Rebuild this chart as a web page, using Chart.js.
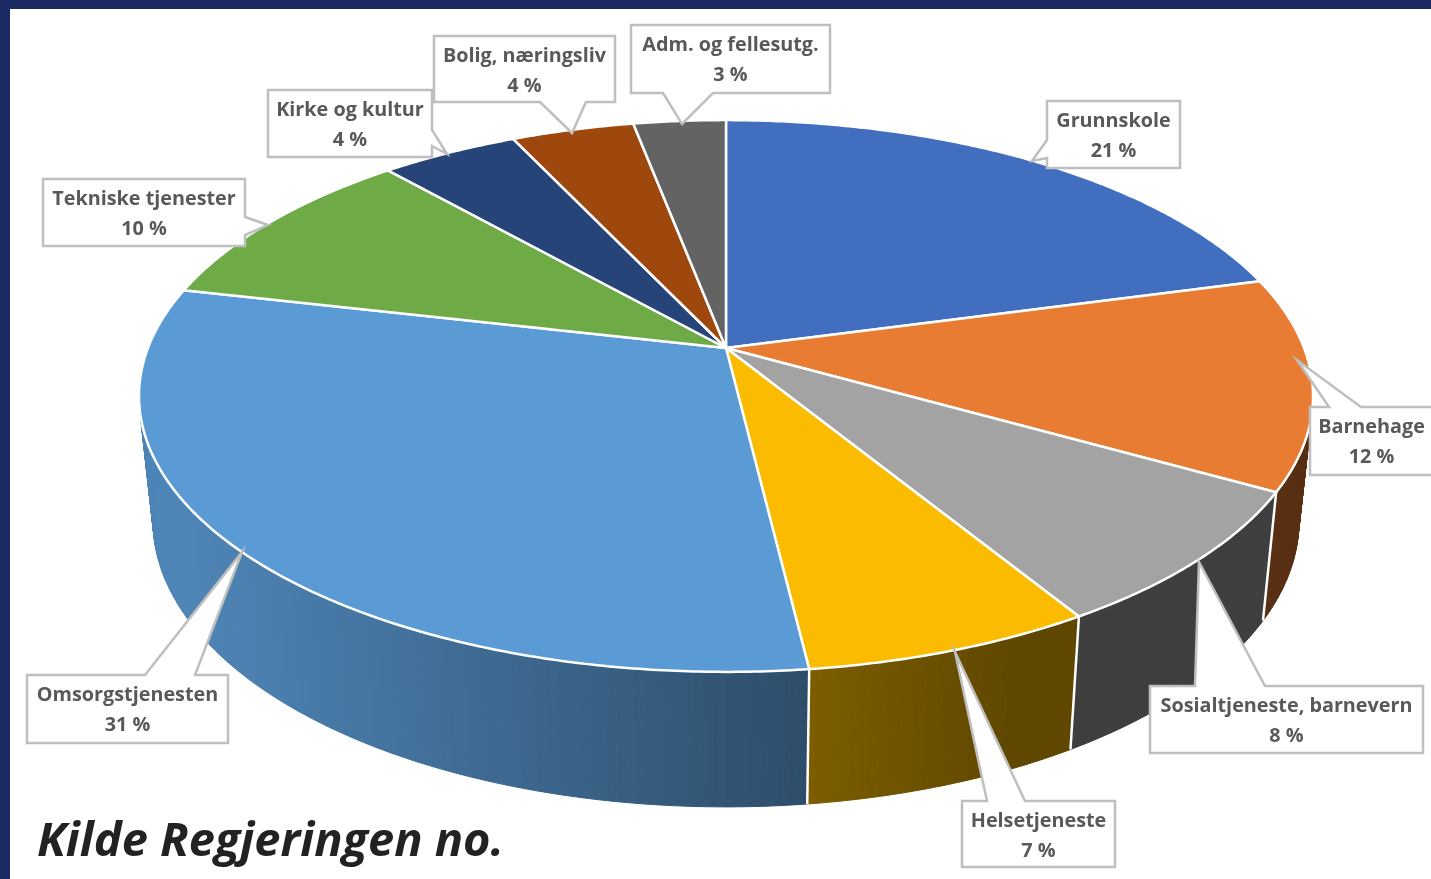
<!DOCTYPE html>
<html lang="no">
<head>
<meta charset="utf-8">
<title>Kilde Regjeringen no.</title>
<script src="https://cdn.jsdelivr.net/npm/chart.js@4"></script>
<style>html,body{margin:0;padding:0;background:#fff}canvas{display:block}</style>
</head>
<body>
<canvas id="c" width="1431" height="879"></canvas>
<script>
const categories = ["Grunnskole","Barnehage","Sosialtjeneste, barnevern","Helsetjeneste","Omsorgstjenesten","Tekniske tjenester","Kirke og kultur","Bolig, næringsliv","Adm. og fellesutg."];
const shares = [20.8,12.4,8.1,6.8,30.5,9.9,4.49,4.0,3.01];
const sliceColors = ["#416EBE","#E97C33","#A3A3A3","#FABB00","#5B9BD5","#6EAB46","#264478","#9E480E","#636363"];
const sourceNote = "Kilde Regjeringen no.";

// Callout layout, in the same order as the categories: box [x0,y0,x1,y1], edge of the wedge, wedge points clockwise
const callouts = [
  {box:[1047,101,1180,168], side:"left",   wedge:[[1047,158],[1032,161],[1047,140]]},
  {box:[1310,407,1445,475], side:"top",    wedge:[[1329,407],[1297,360],[1361,407]]},
  {box:[1150,686,1423,753], side:"top",    wedge:[[1195,686],[1199,562],[1265,686]]},
  {box:[962,801,1115,867],  side:"top",    wedge:[[987,801],[955,652],[1025,801]]},
  {box:[27,675,228,743],    side:"top",    wedge:[[145,675],[242,552],[195,675]]},
  {box:[43,179,245,246],    side:"right",  wedge:[[245,217],[268,225],[245,235]]},
  {box:[268,90,432,157],    side:"right",  wedge:[[432,130],[447,154],[432,146]]},
  {box:[434,36,615,102],    side:"bottom", wedge:[[586,102],[572,133],[540,102]]},
  {box:[631,25,830,93],     side:"bottom", wedge:[[713,93],[682,124],[663,93]]}
];

// Projection of the flat pie: ellipse ratio and perspective shift of the top and bottom faces
const view = {
  perspective: -0.174, topTilt: 0.470,
  bottomOffsetY: 125, bottomScale: 0.976, bottomTilt: 0.499
};

function project(el, a, face) {
  const u = Math.cos(a), v = Math.sin(a);
  const s = view.perspective;
  const d = 1 + v * s;
  const up = u * Math.sqrt(1 - s * s) / d, vp = (v + s) / d;
  if (face === "top") {
    return [el.x + el.outerRadius * up, el.y + el.outerRadius * view.topTilt * vp];
  }
  const r = el.outerRadius * view.bottomScale;
  return [el.x + r * up, el.y + view.bottomOffsetY + r * view.bottomTilt * vp];
}
function apex(el) {
  return [el.x, el.y + el.outerRadius * view.topTilt * view.perspective];
}
function angles(el, stepDeg) {
  const n = Math.max(2, Math.ceil((el.endAngle - el.startAngle) * 180 / Math.PI / stepDeg));
  const out = [];
  for (let i = 0; i <= n; i++) out.push(el.startAngle + (el.endAngle - el.startAngle) * i / n);
  return out;
}
function shadeFor(t) { return Math.min(0.86, Math.max(0.38, 0.547 - 0.336 * t)); }
function scaled(hex, f) {
  const n = parseInt(hex.slice(1), 16);
  return `rgb(${Math.round((n >> 16) * f)},${Math.round(((n >> 8) & 255) * f)},${Math.round((n & 255) * f)})`;
}

const pie3d = {
  id: "pie3d",
  beforeDraw(chart) {
    const c = chart.ctx;
    c.save();
    c.fillStyle = "#fff"; c.fillRect(0, 0, chart.width, chart.height);
    c.fillStyle = "#1B2A63";
    c.fillRect(0, 0, chart.width, 9);
    c.fillRect(0, 0, 10, chart.height);
    c.restore();
  },
  beforeDatasetDraw(chart, args) {
    const c = chart.ctx, arcs = args.meta.data;
    c.save();
    c.lineJoin = "round";
    // walls, back to front
    const order = arcs.map((_, i) => i).sort((p, q) => {
      const m = e => Math.sin((e.startAngle + e.endAngle) / 2);
      return m(arcs[p]) - m(arcs[q]);
    });
    for (const i of order) {
      const el = arcs[i], base = el.options.backgroundColor;
      const as = angles(el, 0.5);
      for (let k = 0; k < as.length - 1; k++) {
        const t1 = project(el, as[k], "top"), t2 = project(el, as[k + 1], "top");
        const b1 = project(el, as[k], "bottom"), b2 = project(el, as[k + 1], "bottom");
        const col = scaled(base, shadeFor((t1[0] - el.x) / el.outerRadius));
        c.fillStyle = col; c.strokeStyle = col; c.lineWidth = 1;
        c.beginPath(); c.moveTo(...t1); c.lineTo(...t2); c.lineTo(...b2); c.lineTo(...b1); c.closePath();
        c.fill(); c.stroke();
      }
    }
    // white seams between wall pieces
    c.strokeStyle = "#fff"; c.lineWidth = 2.5;
    for (const el of arcs) {
      if (Math.sin(el.endAngle) < 0.1) continue;
      c.beginPath();
      c.moveTo(...project(el, el.endAngle, "top"));
      c.lineTo(...project(el, el.endAngle, "bottom"));
      c.stroke();
    }
    // top faces
    for (const el of arcs) {
      c.beginPath();
      c.moveTo(...apex(el));
      for (const a of angles(el, 0.5)) c.lineTo(...project(el, a, "top"));
      c.closePath();
      c.fillStyle = el.options.backgroundColor;
      c.strokeStyle = el.options.borderColor;
      c.lineWidth = el.options.borderWidth;
      c.fill(); c.stroke();
    }
    c.restore();
    return false;
  },
  afterDatasetsDraw(chart) {
    const c = chart.ctx;
    c.save();
    callouts.forEach((o, i) => {
      const [x0, y0, x1, y1] = o.box;
      const pts = [[x0, y0]];
      if (o.side === "top") pts.push(...o.wedge);
      pts.push([x1, y0]);
      if (o.side === "right") pts.push(...o.wedge);
      pts.push([x1, y1]);
      if (o.side === "bottom") pts.push(...o.wedge);
      pts.push([x0, y1]);
      if (o.side === "left") pts.push(...o.wedge);
      c.beginPath();
      pts.forEach((p, k) => k ? c.lineTo(...p) : c.moveTo(...p));
      c.closePath();
      c.fillStyle = "#fff"; c.fill();
      c.strokeStyle = "#BFBFBF"; c.lineWidth = 2.5; c.lineJoin = "miter"; c.stroke();
      c.fillStyle = "#595959";
      c.font = "bold 19.8px 'Open Sans'";
      c.textAlign = "center"; c.textBaseline = "middle";
      const mid = (x0 + Math.min(x1, 1433)) / 2;
      c.fillText(categories[i], mid, y0 + 20.5);
      c.fillText(Math.round(shares[i]) + " %", mid, y0 + 50);
    });
    c.fillStyle = "#222";
    c.font = "italic bold 47px 'Open Sans'";
    c.textAlign = "left"; c.textBaseline = "alphabetic";
    c.fillText(sourceNote, 37, 856);
    c.restore();
  }
};

new Chart(document.getElementById("c"), {
  type: "pie",
  data: {
    labels: categories,
    datasets: [{ data: shares, backgroundColor: sliceColors, borderColor: "#fff", borderWidth: 2.5 }]
  },
  options: {
    responsive: false,
    animation: false,
    radius: 587,
    layout: { padding: { left: 21, bottom: 87 } },
    plugins: { legend: { display: false }, tooltip: { enabled: false } }
  },
  plugins: [pie3d]
});
</script>
</body>
</html>
